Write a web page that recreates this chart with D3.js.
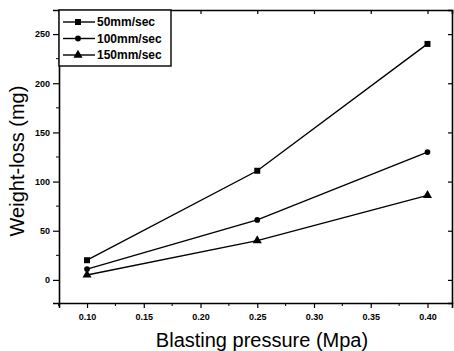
<!DOCTYPE html>
<html>
<head>
<meta charset="utf-8">
<script src="https://cdn.jsdelivr.net/npm/d3@7"></script>
<style>
  body { margin: 0; background: #fff; }
  svg { font-family: "Liberation Sans", Arial, sans-serif; }
</style>
</head>
<body>
<svg id="chart" width="454" height="351"></svg>
<script>
// datos
const pressures = [0.10, 0.25, 0.40];
const speeds = ['50mm/sec', '100mm/sec', '150mm/sec'];
const loss50 = [20, 111, 240];
const loss100 = [11, 61, 130];
const loss150 = [5, 40, 86];
const yTicks = [0, 50, 100, 150, 200, 250];
const xTicks = [0.10, 0.15, 0.20, 0.25, 0.30, 0.35, 0.40];

const series = [
  { name: speeds[0], values: loss50, symbol: d3.symbolSquare, size: 36 },
  { name: speeds[1], values: loss100, symbol: d3.symbolCircle, size: 26 },
  { name: speeds[2], values: loss150, symbol: d3.symbolTriangle, size: 36 }
];

const svg = d3.select('#chart');
const plot = { left: 59, right: 452, top: 10, bottom: 303 };

const x = d3.scaleLinear().domain([0.0753, 0.4216]).range([plot.left, plot.right]);
const y = d3.scaleLinear().domain([-23.5, 274.5]).range([plot.bottom, plot.top]);

// ejes principales
svg.append('g')
  .attr('transform', `translate(0,${plot.bottom})`)
  .call(d3.axisBottom(x).tickValues(xTicks).tickFormat(d3.format('.2f')).tickSize(5).tickPadding(6));
svg.append('g')
  .attr('transform', `translate(${plot.left},0)`)
  .call(d3.axisLeft(y).tickValues(yTicks).tickSize(6).tickPadding(3));

// ticks menores
const xMinor = [0.075, 0.125, 0.175, 0.225, 0.275, 0.325, 0.375];
svg.append('g').selectAll('line').data(xMinor).enter().append('line')
  .attr('x1', d => x(d)).attr('x2', d => x(d))
  .attr('y1', plot.bottom).attr('y2', plot.bottom + 3)
  .attr('stroke', '#000');
const yMinor = [-25, 25, 75, 125, 175, 225].filter(v => y(v) <= plot.bottom);
svg.append('g').selectAll('line').data(yMinor).enter().append('line')
  .attr('x1', plot.left - 3).attr('x2', plot.left)
  .attr('y1', d => y(d)).attr('y2', d => y(d))
  .attr('stroke', '#000');

// ejes superior y derecho
svg.append('g')
  .attr('transform', `translate(0,${plot.top})`)
  .call(d3.axisTop(x).tickValues(xTicks).tickFormat('').tickSize(-4));
svg.append('g')
  .attr('transform', `translate(${plot.right},0)`)
  .call(d3.axisRight(y).tickValues(yTicks).tickFormat('').tickSize(-4));

svg.selectAll('.domain').attr('stroke', '#000').attr('stroke-width', 1.6);
svg.selectAll('.tick line').attr('stroke', '#000').attr('stroke-width', 1.2);
svg.selectAll('.tick text')
  .style('font-size', '9px')
  .style('font-weight', 'bold')
  .attr('fill', '#000');

// lineas y marcadores
const line = d3.line()
  .x((d, i) => x(pressures[i]))
  .y(d => y(d));

series.forEach(s => {
  svg.append('path')
    .attr('d', line(s.values))
    .attr('fill', 'none')
    .attr('stroke', '#000')
    .attr('stroke-width', 1.4);
  svg.append('g').selectAll('path').data(s.values).enter().append('path')
    .attr('d', d3.symbol().type(s.symbol).size(s.size))
    .attr('transform', (d, i) => `translate(${x(pressures[i])},${y(d)})`)
    .attr('fill', '#000');
});

// leyenda
const legend = svg.append('g');
legend.append('rect')
  .attr('x', plot.left).attr('y', plot.top)
  .attr('width', 112).attr('height', 56)
  .attr('fill', '#fff').attr('stroke', '#000').attr('stroke-width', 1.4);
series.forEach((s, i) => {
  const ly = 22 + i * 16.5;
  legend.append('line')
    .attr('x1', 63).attr('x2', 95)
    .attr('y1', ly).attr('y2', ly)
    .attr('stroke', '#000').attr('stroke-width', 1.4);
  legend.append('path')
    .attr('d', d3.symbol().type(s.symbol).size(s.size))
    .attr('transform', `translate(78,${ly})`)
    .attr('fill', '#000');
  legend.append('text')
    .attr('x', 97).attr('y', ly + 4)
    .style('font-size', '12px')
    .style('font-weight', 'bold')
    .text(s.name);
});

// titulos de ejes
svg.append('text')
  .attr('x', 262).attr('y', 347)
  .attr('text-anchor', 'middle')
  .style('font-size', '20px')
  .text('Blasting pressure (Mpa)');
svg.append('text')
  .attr('transform', 'translate(24,161) rotate(-90)')
  .attr('text-anchor', 'middle')
  .style('font-size', '20px')
  .text('Weight-loss (mg)');
</script>
</body>
</html>
